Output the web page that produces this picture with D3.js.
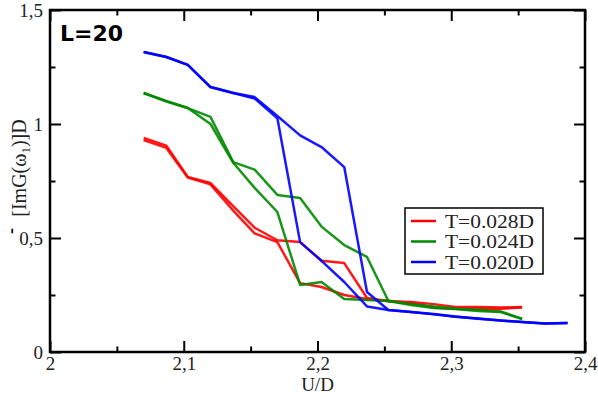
<!DOCTYPE html>
<html>
<head>
<meta charset="utf-8">
<script src="https://cdn.jsdelivr.net/npm/d3@7"></script>
<style>
  body { margin: 0; background: #fff; }
  svg { display: block; }
</style>
</head>
<body>
<div id="chart"></div>
<script>
// data
const uValues = [2.07, 2.087, 2.103, 2.12, 2.137, 2.153, 2.17, 2.187, 2.203, 2.22,
                 2.237, 2.253, 2.27, 2.287, 2.303, 2.32, 2.337, 2.353, 2.37, 2.387];

const red028Up   = [0.939, 0.905, 0.768, 0.741, 0.64, 0.545, 0.49, 0.482, 0.40, 0.39, 0.237, 0.222, 0.219, 0.21, 0.197, 0.197, 0.195, 0.197];
const red028Down = [0.93, 0.895, 0.765, 0.735, 0.62, 0.52, 0.482, 0.302, 0.285, 0.25, 0.232, 0.225, 0.215, 0.195, 0.19, 0.19, 0.19, 0.195];
const green024Up   = [1.136, 1.10, 1.07, 1.031, 0.833, 0.80, 0.689, 0.675, 0.55, 0.469, 0.417, 0.224, 0.206, 0.193, 0.189, 0.18, 0.175, 0.145];
const green024Down = [1.136, 1.10, 1.07, 1.0, 0.83, 0.72, 0.614, 0.294, 0.307, 0.232, 0.228, 0.224, 0.21, 0.2, 0.19, 0.185, 0.178, 0.145];
const blue020Up   = [1.316, 1.294, 1.259, 1.162, 1.136, 1.118, 1.035, 0.95, 0.899, 0.811, 0.263, 0.184, 0.175, 0.167, 0.156, 0.147, 0.138, 0.132, 0.125, 0.127];
const blue020Down = [1.316, 1.294, 1.259, 1.162, 1.136, 1.112, 1.025, 0.482, 0.40, 0.307, 0.20, 0.184, 0.175, 0.165, 0.155, 0.146, 0.138, 0.132, 0.125, 0.127];

const seriesNames = ["T=0.028D", "T=0.024D", "T=0.020D"];
const seriesColors = ["#ff0000", "#008a00", "#0000ff"];

const xTicks = [2, 2.1, 2.2, 2.3, 2.4];
const xMinorTicks = [2.05, 2.15, 2.25, 2.35];
const yTicks = [0, 0.5, 1, 1.5];
const yMinorTicks = [0.25, 0.75, 1.25];

// dimensions
const dim = {
    width: 598,
    height: 397,
    left: 50,
    right: 585,
    top: 10,
    bottom: 352
}

const svg = d3.select("#chart")
    .append("svg")
        .attr("width", dim.width)
        .attr("height", dim.height)

// scales
const xScale = d3.scaleLinear()
    .domain([2, 2.4])
    .range([dim.left, dim.right])

const yScale = d3.scaleLinear()
    .domain([0, 1.5])
    .range([dim.bottom, dim.top])

const comma = d => d3.format("~g")(d).replace(".", ",")

// axes, ticks pointing inward on all four sides
function styleAxis(g) {
    g.select(".domain").remove()
    g.selectAll(".tick line").attr("stroke", "#000").attr("stroke-width", 2)
    g.selectAll(".tick text")
        .attr("fill", "#222")
        .style("font-family", "'Liberation Serif', 'Times New Roman', serif")
        .style("font-size", "19px")
}

svg.append("g")
    .attr("transform", `translate(0, ${dim.bottom})`)
    .call(d3.axisBottom(xScale).tickValues(xTicks).tickSize(-11).tickPadding(5).tickFormat(comma))
    .call(styleAxis)

svg.append("g")
    .attr("transform", `translate(0, ${dim.bottom})`)
    .call(d3.axisBottom(xScale).tickValues(xMinorTicks).tickSize(-5.5).tickFormat(""))
    .call(styleAxis)

svg.append("g")
    .attr("transform", `translate(0, ${dim.top})`)
    .call(d3.axisTop(xScale).tickValues(xTicks).tickSize(-11).tickFormat(""))
    .call(styleAxis)

svg.append("g")
    .attr("transform", `translate(0, ${dim.top})`)
    .call(d3.axisTop(xScale).tickValues(xMinorTicks).tickSize(-5.5).tickFormat(""))
    .call(styleAxis)

svg.append("g")
    .attr("transform", `translate(${dim.left}, 0)`)
    .call(d3.axisLeft(yScale).tickValues(yTicks).tickSize(-11).tickPadding(7).tickFormat(comma))
    .call(styleAxis)

svg.append("g")
    .attr("transform", `translate(${dim.left}, 0)`)
    .call(d3.axisLeft(yScale).tickValues(yMinorTicks).tickSize(-5.5).tickFormat(""))
    .call(styleAxis)

svg.append("g")
    .attr("transform", `translate(${dim.right}, 0)`)
    .call(d3.axisRight(yScale).tickValues(yTicks).tickSize(-11).tickFormat(""))
    .call(styleAxis)

svg.append("g")
    .attr("transform", `translate(${dim.right}, 0)`)
    .call(d3.axisRight(yScale).tickValues(yMinorTicks).tickSize(-5.5).tickFormat(""))
    .call(styleAxis)

// frame
svg.append("rect")
    .attr("x", dim.left)
    .attr("y", dim.top)
    .attr("width", dim.right - dim.left)
    .attr("height", dim.bottom - dim.top)
    .attr("fill", "none")
    .attr("stroke", "#000")
    .attr("stroke-width", 2.5)

// lines
const curves = [
    {values: red028Up, color: seriesColors[0]},
    {values: red028Down, color: seriesColors[0]},
    {values: green024Up, color: seriesColors[1]},
    {values: green024Down, color: seriesColors[1]},
    {values: blue020Up, color: seriesColors[2]},
    {values: blue020Down, color: seriesColors[2]}
]

const line = d3.line()
    .x((d, i) => xScale(uValues[i]))
    .y(d => yScale(d))

svg.append("g")
    .selectAll("path")
    .data(curves)
    .join("path")
        .attr("d", d => line(d.values))
        .attr("fill", "none")
        .attr("stroke", d => d.color)
        .attr("stroke-width", 2.5)
        .attr("stroke-linejoin", "round")
        .attr("opacity", 0.9)

// legend
const legend = svg.append("g")

legend.append("rect")
    .attr("x", 405)
    .attr("y", 208)
    .attr("width", 138)
    .attr("height", 66)
    .attr("fill", "#fff")
    .attr("stroke", "#000")
    .attr("stroke-width", 1.5)

const legendRows = legend.selectAll("g.row")
    .data(seriesNames)
    .join("g")
        .attr("class", "row")
        .attr("transform", (d, i) => `translate(411, ${221 + i * 20.5})`)

legendRows.append("line")
    .attr("x1", 0)
    .attr("x2", 25)
    .attr("stroke", (d, i) => seriesColors[i])
    .attr("stroke-width", 2.5)

legendRows.append("text")
    .attr("x", 34)
    .attr("y", 6.5)
    .attr("textLength", 89)
    .attr("lengthAdjust", "spacingAndGlyphs")
    .attr("fill", "#222")
    .style("font-family", "'Liberation Serif', 'Times New Roman', serif")
    .style("font-size", "18px")
    .text(d => d)

// labels
svg.append("text")
    .attr("x", 60)
    .attr("y", 41)
    .style("font-family", "'DejaVu Sans', sans-serif")
    .style("font-weight", "bold")
    .style("font-size", "22px")
    .text("L=20")

svg.append("text")
    .attr("x", (dim.left + dim.right) / 2)
    .attr("y", 391)
    .attr("text-anchor", "middle")
    .attr("fill", "#222")
    .style("font-family", "'Liberation Serif', 'Times New Roman', serif")
    .style("font-size", "19px")
    .text("U/D")

const yTitle = svg.append("text")
    .attr("transform", "translate(26, 168) rotate(-90)")
    .attr("text-anchor", "middle")
    .attr("fill", "#222")
    .style("font-family", "'Liberation Serif', 'Times New Roman', serif")
    .style("font-size", "20px")

yTitle.append("tspan").text("[ImG(ω")
yTitle.append("tspan").attr("dy", 4).style("font-size", "13px").text("1")
yTitle.append("tspan").attr("dy", -4).text(")]D")

svg.append("text")
    .attr("transform", "translate(17, 231) rotate(-90)")
    .attr("text-anchor", "middle")
    .style("font-family", "'Liberation Serif', serif")
    .style("font-weight", "bold")
    .style("font-size", "18px")
    .text("-")
</script>
</body>
</html>
